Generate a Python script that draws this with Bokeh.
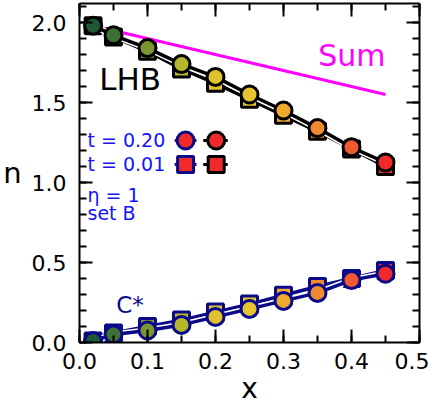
from bokeh.plotting import figure
from bokeh.models import (LinearAxis, SingleIntervalTicker, Range1d, Label, ColumnDataSource,
                          PrintfTickFormatter, CustomJSTickFormatter)
from bokeh.core.properties import value
from bokeh.embed import file_html
from bokeh.resources import INLINE

# ---- data ----
x = [0.02, 0.05, 0.10, 0.15, 0.20, 0.25, 0.30, 0.35, 0.40, 0.45]
lhb_t020 = [1.98, 1.92, 1.84, 1.74, 1.66, 1.55, 1.45, 1.34, 1.22, 1.125]
lhb_t001 = [1.98, 1.91, 1.82, 1.71, 1.62, 1.52, 1.42, 1.32, 1.21, 1.10]
cstar_t020 = [0.01, 0.05, 0.075, 0.11, 0.16, 0.21, 0.26, 0.31, 0.39, 0.43]
cstar_t001 = [0.01, 0.06, 0.10, 0.14, 0.19, 0.24, 0.295, 0.35, 0.40, 0.45]
sum_x = [0.02, 0.45]
sum_y = [1.98, 1.55]
point_colors = ["#1d5a33", "#3d7034", "#7a9630", "#b4b82c", "#e0c22e",
                "#e6c430", "#f0aa2e", "#f08a2e", "#f05a2e", "#f02a2a"]
legend_labels = ["t = 0.20", "t = 0.01"]
x_tick_interval = 0.1
y_tick_interval = 0.5

FONT = "DejaVu Sans"
NAVY = "#0a0a88"
BLUE = "#1414ff"

p = figure(frame_width=340, frame_height=339, output_backend="svg", toolbar_location=None,
           x_range=Range1d(0, 0.5), y_range=Range1d(0, 2.11875),
           min_border_left=74, min_border_right=10, min_border_top=3, min_border_bottom=60)
p.grid.visible = False
p.outline_line_color = None
p.background_fill_color = "white"
p.border_fill_color = "white"

xt = SingleIntervalTicker(interval=x_tick_interval, num_minor_ticks=2)
yt = SingleIntervalTicker(interval=y_tick_interval, num_minor_ticks=5)

def style(ax, show_labels):
    ax.axis_line_width = 2
    ax.axis_line_color = "black"
    ax.major_tick_in = 13
    ax.major_tick_out = 0
    ax.minor_tick_in = 7
    ax.minor_tick_out = 0
    ax.major_tick_line_width = 2
    ax.minor_tick_line_width = 2
    ax.major_tick_line_color = "black"
    ax.minor_tick_line_color = "black"
    if show_labels:
        ax.major_label_text_font = FONT
        ax.major_label_text_font_size = "22px"
        ax.major_label_text_color = "black"
        ax.formatter = PrintfTickFormatter(format="%.1f")
        ax.axis_label_text_font = FONT
        ax.axis_label_text_font_style = "normal"
        ax.axis_label_text_color = "black"
    else:
        ax.formatter = CustomJSTickFormatter(code="return ''")
        ax.major_label_standoff = 0

p.xaxis.ticker = xt
p.yaxis.ticker = yt
style(p.xaxis[0], True)
style(p.yaxis[0], True)
p.xaxis[0].major_label_standoff = 10
p.yaxis[0].major_label_standoff = 13
p.xaxis[0].axis_label = "x"
p.xaxis[0].axis_label_text_font_size = "28px"
p.xaxis[0].axis_label_standoff = 0
p.yaxis[0].axis_label = "n"
p.yaxis[0].axis_label_text_font_size = "29px"
p.yaxis[0].axis_label_orientation = "horizontal"
p.yaxis[0].axis_label_standoff = 7

ax_r = LinearAxis(ticker=yt)
style(ax_r, False)
p.add_layout(ax_r, "right")
ax_t = LinearAxis(ticker=xt)
style(ax_t, False)
p.add_layout(ax_t, "above")

CIRC, SQ, EDGE, LW, HALO = 17, 16, 3, 3.5, 6.5

# ---- Sum line ----
p.line(sum_x, sum_y, line_color="#ff00ff", line_width=3)

# ---- C* series ----
src_c1 = ColumnDataSource(dict(x=x, y=cstar_t001, c=point_colors))
src_c2 = ColumnDataSource(dict(x=x, y=cstar_t020, c=point_colors))
p.line("x", "y", source=src_c1, line_color="white", line_width=HALO)
p.line("x", "y", source=src_c1, line_color=NAVY, line_width=LW)
p.scatter("x", "y", source=src_c1, marker="square", size=SQ, fill_color="c",
          line_color=NAVY, line_width=EDGE)
p.line("x", "y", source=src_c2, line_color="white", line_width=HALO)
p.line("x", "y", source=src_c2, line_color=NAVY, line_width=LW)
p.scatter("x", "y", source=src_c2, marker="circle", size=CIRC, fill_color="c",
          line_color=NAVY, line_width=EDGE)

# ---- LHB series ----
src_l1 = ColumnDataSource(dict(x=x, y=lhb_t001, c=point_colors))
src_l2 = ColumnDataSource(dict(x=x, y=lhb_t020, c=point_colors))
p.line("x", "y", source=src_l1, line_color="white", line_width=HALO)
p.line("x", "y", source=src_l1, line_color="black", line_width=LW)
p.scatter("x", "y", source=src_l1, marker="square", size=SQ, fill_color="c",
          line_color="black", line_width=EDGE)
p.line("x", "y", source=src_l2, line_color="white", line_width=HALO)
p.line("x", "y", source=src_l2, line_color="black", line_width=LW)
p.scatter("x", "y", source=src_l2, marker="circle", size=CIRC, fill_color="c",
          line_color="black", line_width=EDGE)

# ---- legend (drawn by hand) ----
row_y = [1.2625, 1.1125]
markers = ["circle", "square"]
legend_fill = point_colors[-1]
for ry, mk, lab in zip(row_y, markers, legend_labels):
    sz = CIRC if mk == "circle" else SQ
    p.line([0.140, 0.172], [ry, ry], line_color=NAVY, line_width=3)
    p.scatter([0.156], [ry], marker=mk, size=sz,
              fill_color=legend_fill, line_color=NAVY, line_width=EDGE)
    p.line([0.182, 0.218], [ry, ry], line_color="black", line_width=3)
    p.scatter([0.201], [ry], marker=mk, size=sz,
              fill_color=legend_fill, line_color="black", line_width=EDGE)
    p.add_layout(Label(x=0.0118, y=ry - 0.0435 + 0.045, text=lab, text_font=FONT,
                       text_font_size="19px", text_color=BLUE, text_align="left",
                       text_baseline="alphabetic"))

p.add_layout(Label(x=0.0118, y=0.875 + 0.045, text="η = 1", text_font=FONT, text_font_size="19px",
                   text_color=BLUE, text_baseline="alphabetic"))
p.add_layout(Label(x=0.0118, y=0.7625 + 0.045, text="set B", text_font=FONT, text_font_size="19px",
                   text_color=BLUE, text_baseline="alphabetic"))

# ---- annotations ----
p.add_layout(Label(x=0.029, y=1.644, text="LHB", text_font=FONT, text_font_size="31px",
                   text_color="black", text_baseline="alphabetic"))
p.add_layout(Label(x=0.351, y=1.791, text="Sum", text_font=FONT, text_font_size="30px",
                   text_color="#ff00ff", text_baseline="alphabetic"))
p.add_layout(Label(x=0.054, y=0.236, text="C*", text_font=FONT, text_font_size="23px",
                   text_color=NAVY, text_baseline="alphabetic"))

open("out.html", "w").write(file_html(p, INLINE))
